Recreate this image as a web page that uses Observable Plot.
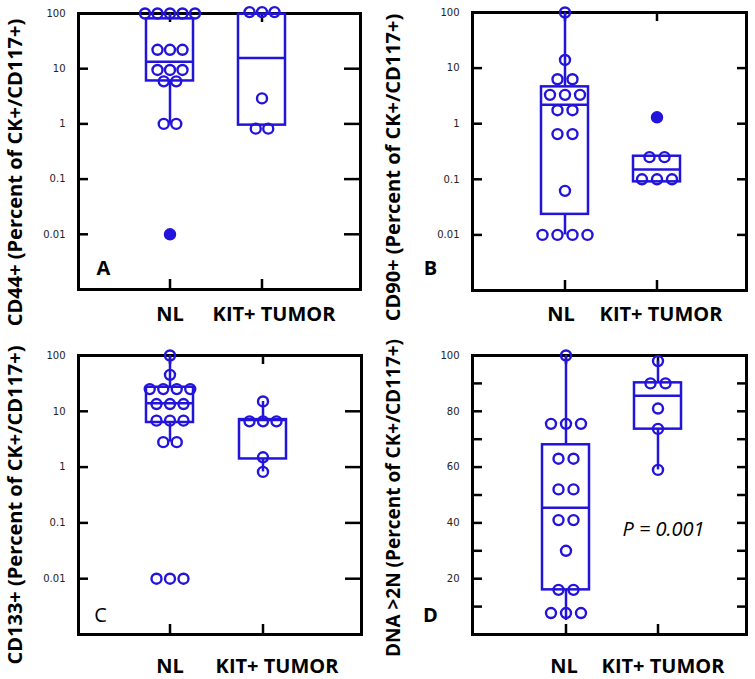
<!DOCTYPE html>
<html><head><meta charset="utf-8">
<script src="https://cdn.jsdelivr.net/npm/d3@7"></script>
<script src="https://cdn.jsdelivr.net/npm/@observablehq/plot@0.6"></script>
<style>
body{margin:0;background:#fff;}
#grid{display:grid;grid-template-columns:377px 378px;grid-template-rows:340px 339px;width:755px;}
#grid svg{display:block;overflow:visible}
</style></head><body><div id="grid"></div>
<script>
const groups = ["NL", "KIT+ TUMOR"];

// Panel A – CD44+
const cd44NL = [100,100,100,100,100,22,22,22,9.5,9.5,9.5,5.9,5.9,1,1];
const cd44NLOutliers = [0.01];
const cd44KIT = [106,106,106,2.9,0.82,0.82];
const cd44KITOutliers = [];
const cd44BoxNL = [1, 6, 13.4, 80, 100];        // [lowWhisker, q1, median, q3, highWhisker]
const cd44BoxKIT = [null, 0.95, 15.6, 97, null];

// Panel B – CD90+
const cd90NL = [100,14,6.3,6.3,3.3,3.3,3.3,1.75,1.75,0.65,0.65,0.062,0.01,0.01,0.01,0.01];
const cd90NLOutliers = [];
const cd90KIT = [0.25,0.25,0.1,0.1,0.1];
const cd90KITOutliers = [1.3];
const cd90BoxNL = [0.01, 0.0234, 2.2, 4.6, 100];
const cd90BoxKIT = [null, 0.09, 0.15, 0.26, null];

// Panel C – CD133+
const cd133NL = [100,45,25,25,25,25,13.5,13.5,13.5,6.8,6.8,6.8,2.8,2.8,0.01,0.01,0.01];
const cd133NLOutliers = [];
const cd133KIT = [15,6.6,6.6,6.6,1.5,0.82];
const cd133KITOutliers = [];
const cd133BoxNL = [2.8, 6.3, 14, 27, 100];
const cd133BoxKIT = [0.82, 1.4, 7.0, 7.1, 15];

// Panel D – DNA >2N
const dnaNL = [100,75.5,75.5,75.5,63,63,52,52,41,41,30,16,16,7.7,7.7,7.7];
const dnaNLOutliers = [];
const dnaKIT = [98,90,90,81,73.7,59];
const dnaKITOutliers = [];
const dnaBoxNL = [5, 16, 45.4, 68, 100];
const dnaBoxKIT = [59, 73.6, 85.6, 90.2, 98];

const logTicks = [0.01, 0.1, 1, 10, 100];
const linTicks = [10, 20, 30, 40, 50, 60, 70, 80, 90, 100];
const linLabels = [20, 40, 60, 80, 100];

const blue = "#2314dc";
const labelFont = "'Open Sans', 'DejaVu Sans', sans-serif";

function panel(cfg) {
  const pts = [];
  const outs = [];
  [[groups[0], cfg.nl, cfg.nlOut], [groups[1], cfg.kit, cfg.kitOut]].forEach(([g, vals, ov]) => {
    const counts = d3.rollup(vals, v => v.length, d => d);
    const seen = new Map();
    for (const v of vals) {
      const n = counts.get(v), i = seen.get(v) || 0;
      seen.set(v, i + 1);
      pts.push({group: g, value: v, slot: i - (n - 1) / 2});
    }
    for (const v of ov) outs.push({group: g, value: v});
  });
  const slots = [...new Set(pts.map(p => p.slot))];
  const boxes = [[groups[0], cfg.boxNL], [groups[1], cfg.boxKIT]].map(([g, b]) =>
    ({group: g, lo: b[0], q1: b[1], med: b[2], q3: b[3], hi: b[4]}));
  const fw = cfg.width - cfg.ml - cfg.mr;
  const fh = cfg.height - cfg.mt - cfg.mb;
  const tickStyle = {stroke: "black", strokeWidth: 2.5};
  const boxStyle = {stroke: blue, strokeWidth: 2.5};
  const xLabelStyle = {x: d => d, frameAnchor: "bottom", dy: cfg.xLabelDy, textAnchor: "middle", lineAnchor: "middle",
    fontSize: 20, fontWeight: "bold", fontFamily: labelFont, fill: "black"};
  return Plot.plot({
    width: cfg.width, height: cfg.height,
    marginLeft: cfg.ml, marginRight: cfg.mr, marginTop: cfg.mt, marginBottom: cfg.mb,
    x: {type: "band", domain: groups, range: cfg.xRange, paddingInner: 0.49, paddingOuter: 0, axis: null},
    y: cfg.log ? {type: "log", domain: [0.001, 100]} : {type: "linear", domain: [0, 100]},
    marks: [
      Plot.ruleY(cfg.ticks, {y: d => d, insetRight: fw - 10, ...tickStyle}),
      Plot.ruleY(cfg.ticks, {y: d => d, insetLeft: fw - cfg.rightTick, ...tickStyle}),
      Plot.ruleX(groups, {x: d => d, insetTop: fh - 10, ...tickStyle}),
      Plot.ruleX(groups, {x: d => d, insetBottom: fh - 9, ...tickStyle}),
      Plot.frame({stroke: "black", strokeWidth: 3}),
      Plot.axisY({ticks: cfg.labels, tickSize: 0, tickPadding: 13, label: null,
        tickFormat: d => String(d), fontSize: 10, fill: "#222", fontFamily: "'DejaVu Sans', sans-serif"}),
      Plot.ruleX(boxes.filter(b => b.hi != null), {x: "group", y1: "q3", y2: "hi", ...boxStyle}),
      Plot.ruleX(boxes.filter(b => b.lo != null), {x: "group", y1: "lo", y2: "q1", ...boxStyle}),
      Plot.barY(boxes, {x: "group", y1: "q1", y2: "q3", fill: "none", ...boxStyle}),
      Plot.tickY(boxes, {x: "group", y: "med", ...boxStyle}),
      ...slots.map(s => Plot.dot(pts.filter(p => p.slot === s),
        {x: "group", y: "value", dx: s * cfg.spacing, r: 5, stroke: blue, strokeWidth: 2.4, fill: "none"})),
      Plot.dot(outs, {x: "group", y: "value", r: 5.5, fill: blue, stroke: blue}),
      Plot.text([cfg.yLabel], {frameAnchor: "left", rotate: -90, dx: cfg.yLabelDx, dy: cfg.yLabelDy,
        textAnchor: "middle", lineAnchor: "middle",
        fontSize: cfg.yLabelSize, fontWeight: "bold", fontFamily: labelFont, fill: "black"}),
      Plot.text([groups[0]], {...xLabelStyle, dx: cfg.nlDx}),
      Plot.text([groups[1]], {...xLabelStyle, dx: cfg.kitDx}),
      Plot.text([cfg.letter], {frameAnchor: "bottom-left", dx: cfg.letterDx, dy: cfg.letterDy, textAnchor: "middle",
        lineAnchor: "middle", fontSize: 20, fontWeight: cfg.letterWeight, fontFamily: labelFont, fill: "black"}),
      ...(cfg.note ? [Plot.text([cfg.note], {frameAnchor: "right", dx: -83, dy: 35, textAnchor: "middle",
        lineAnchor: "middle", fontSize: 20, fontStyle: "italic", fontFamily: labelFont, fill: "black"})] : [])
    ]
  });
}

const grid = document.getElementById("grid");
grid.append(panel({
  width: 377, height: 340, ml: 78, mr: 17, mt: 13, mb: 51, xRange: [146, 285], log: true,
  ticks: logTicks, labels: logTicks, rightTick: 16, spacing: 12.5,
  nl: cd44NL, nlOut: cd44NLOutliers, kit: cd44KIT, kitOut: cd44KITOutliers, boxNL: cd44BoxNL, boxKIT: cd44BoxKIT,
  yLabel: "CD44+ (Percent of CK+/CD117+)", yLabelDx: -63, yLabelDy: 21, yLabelSize: 20,
  xLabelDy: 25, nlDx: 0, kitDx: 12, letter: "A", letterDx: 25, letterDy: -21, letterWeight: "bold"
}));
grid.append(panel({
  width: 378, height: 340, ml: 95, mr: 9, mt: 12, mb: 50, xRange: [164, 303], log: true,
  ticks: logTicks, labels: logTicks, rightTick: 9, spacing: 15,
  nl: cd90NL, nlOut: cd90NLOutliers, kit: cd90KIT, kitOut: cd90KITOutliers, boxNL: cd90BoxNL, boxKIT: cd90BoxKIT,
  yLabel: "CD90+ (Percent of CK+/CD117+)", yLabelDx: -79, yLabelDy: 16, yLabelSize: 20,
  xLabelDy: 24, nlDx: -4, kitDx: 4, letter: "B", letterDx: -42, letterDy: -22, letterWeight: "bold"
}));
grid.append(panel({
  width: 377, height: 339, ml: 78, mr: 16, mt: 15, mb: 45, xRange: [146, 287], log: true,
  ticks: logTicks, labels: logTicks, rightTick: 16, spacing: 13.5,
  nl: cd133NL, nlOut: cd133NLOutliers, kit: cd133KIT, kitOut: cd133KITOutliers, boxNL: cd133BoxNL, boxKIT: cd133BoxKIT,
  yLabel: "CD133+ (Percent of CK+/CD117+)", yLabelDx: -63, yLabelDy: 10, yLabelSize: 20,
  xLabelDy: 32, nlDx: 0, kitDx: 14, letter: "C", letterDx: 22, letterDy: -19, letterWeight: "normal"
}));
grid.append(panel({
  width: 378, height: 339, ml: 95, mr: 9, mt: 15, mb: 45, xRange: [164, 304], log: false,
  ticks: linTicks, labels: linLabels, rightTick: 9, spacing: 15,
  nl: dnaNL, nlOut: dnaNLOutliers, kit: dnaKIT, kitOut: dnaKITOutliers, boxNL: dnaBoxNL, boxKIT: dnaBoxKIT,
  yLabel: "DNA >2N (Percent of CK+/CD117+)", yLabelDx: -79, yLabelDy: 3, yLabelSize: 19,
  xLabelDy: 32, nlDx: -2, kitDx: 5, letter: "D", letterDx: -42, letterDy: -19, letterWeight: "bold", note: "P = 0.001"
}));
</script></body></html>
